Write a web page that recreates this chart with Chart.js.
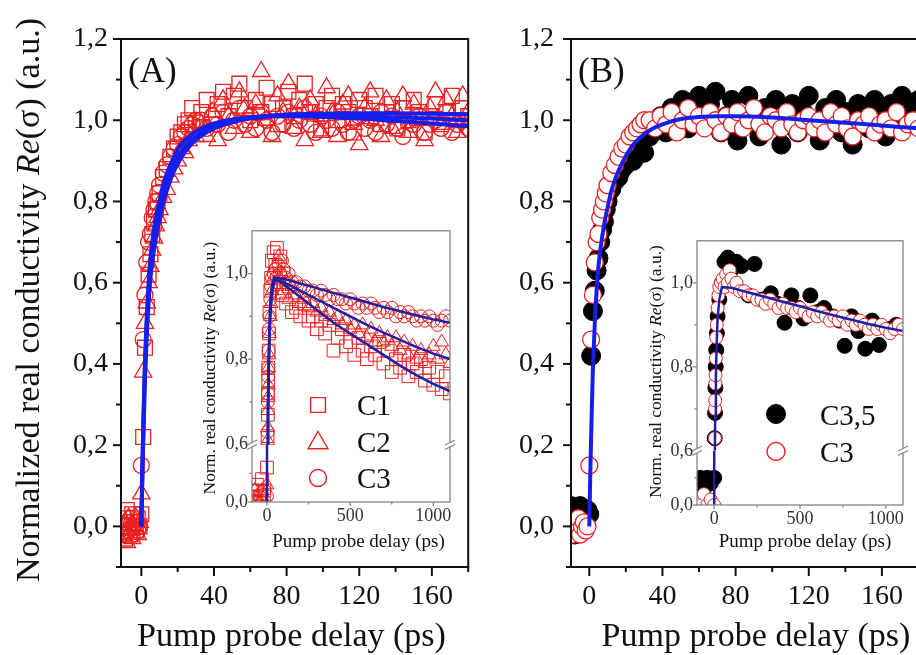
<!DOCTYPE html>
<html>
<head>
<meta charset="utf-8">
<script src="https://cdn.jsdelivr.net/npm/chart.js@4.4.0/dist/chart.umd.min.js"></script>
<style>
  html, body { margin: 0; padding: 0; background: #fff; overflow: hidden; width: 916px; height: 655px; position: relative; }
  canvas { position: absolute; }
</style>
</head>
<body>
<canvas id="mainA" width="480" height="655" style="left:0;top:0"></canvas>
<canvas id="mainB" width="449" height="655" style="left:480px;top:0"></canvas>
<canvas id="insetA" width="270" height="340" style="left:190px;top:220px"></canvas>
<canvas id="insetB" width="272" height="330" style="left:640px;top:230px"></canvas>
<script>
"use strict";

// ---- data ----

// main panels, delay in ps
const tMain = [-10, -9, -8, -7, -6, -5, -4, -3, -2, -1, 0,
  1, 2, 3, 4, 5, 6, 7, 8, 9, 10, 12, 14, 16, 18, 20, 22, 24, 26, 28, 30,
  33, 36, 39, 42, 45, 48, 51, 54, 57, 60, 63, 66, 69, 72, 75, 78, 81, 84, 87, 90,
  93, 96, 99, 102, 105, 108, 111, 114, 117, 120, 123, 126, 129, 132, 135, 138, 141, 144, 147, 150,
  153, 156, 159, 162, 165, 168, 171, 174, 177, 180];

const c1Main = [0.02, -0.03, 0.04, 0.0, -0.02, 0.03, 0.01, -0.01, 0.02, 0.0, 0.03,
  0.22, 0.44, 0.54, 0.62, 0.67, 0.72, 0.75, 0.78, 0.80, 0.82,
  0.86, 0.88, 0.91, 0.93, 0.96, 0.97, 0.99, 1.0, 1.03, 0.98,
  1.02, 1.05, 0.99, 1.04, 1.07, 1.01, 1.06, 1.09, 1.03, 1.0,
  1.05, 1.02, 1.08, 1.04, 0.99, 1.03, 1.07, 1.01, 1.05, 1.09,
  1.02, 1.04, 0.98, 1.03, 1.06, 1.0, 1.04, 1.02, 0.97, 1.05,
  1.03, 1.01, 1.06, 0.99, 1.02, 1.04, 0.98, 1.03, 1.0, 1.05,
  1.02, 0.97, 1.01, 1.04, 0.99, 1.02, 1.06, 1.0, 1.03, 1.01];

const c2Main = [-0.02, 0.01, -0.04, 0.02, -0.01, -0.03, 0.0, 0.02, -0.02, 0.01, 0.08,
  0.38, 0.50, 0.55, 0.60, 0.64, 0.68, 0.71, 0.74, 0.76, 0.78,
  0.81, 0.83, 0.86, 0.88, 0.90, 0.93, 0.92, 0.95, 0.97, 0.96,
  0.99, 0.96, 1.02, 0.95, 1.05, 1.01, 0.98, 1.07, 1.03, 0.97,
  1.04, 1.12, 1.0, 0.96, 1.06, 1.02, 1.09, 0.98, 1.03, 0.95,
  1.05, 1.01, 0.97, 1.08, 1.02, 0.96, 1.04, 1.06, 0.99, 0.94,
  1.03, 1.07, 1.0, 0.96, 1.05, 0.98, 1.02, 1.06, 0.97, 1.04,
  1.0, 0.95, 1.03, 1.07, 0.99, 1.05, 1.01, 0.97, 1.06, 1.02];

const c3Main = [0.0, -0.02, 0.01, -0.01, 0.02, -0.02, 0.0, 0.01, -0.01, 0.0, 0.15,
  0.46, 0.57, 0.65, 0.70, 0.72, 0.76, 0.78, 0.80, 0.82, 0.84,
  0.87, 0.89, 0.91, 0.93, 0.94, 0.96, 0.97, 0.98, 0.99, 1.0,
  1.0, 0.98, 1.01, 0.99, 1.02, 0.97, 1.0, 1.03, 0.99, 1.01,
  0.98, 1.02, 1.0, 0.97, 1.01, 0.99, 1.02, 0.98, 1.0, 1.03,
  0.99, 0.97, 1.01, 1.0, 0.98, 1.02, 0.99, 0.97, 1.0, 1.01,
  0.98, 1.0, 0.97, 1.02, 0.99, 1.01, 0.98, 0.96, 1.0, 0.99,
  1.01, 0.97, 0.99, 1.0, 0.98, 1.02, 0.97, 0.99, 1.0, 0.98];

const c35Main = [0.05, 0.03, -0.02, 0.04, 0.02, 0.05, 0.03, 0.04, 0.02, 0.04, 0.03,
  0.42, 0.53, 0.58, 0.63, 0.66, 0.70, 0.73, 0.75, 0.78, 0.80,
  0.83, 0.85, 0.86, 0.88, 0.89, 0.91, 0.90, 0.93, 0.94, 0.92,
  0.96, 0.98, 1.01, 0.97, 1.03, 1.0, 1.05, 0.98, 1.02, 1.06,
  0.99, 1.04, 1.07, 0.97, 1.01, 1.05, 0.95, 1.0, 1.06, 1.02,
  0.96, 1.03, 0.99, 1.05, 0.94, 1.01, 1.04, 0.97, 1.02, 1.06,
  0.99, 0.95, 1.03, 1.0, 1.05, 0.97, 1.02, 0.94, 1.04, 1.01,
  0.98, 1.05, 1.02, 0.96, 1.04, 1.0, 1.06, 0.99, 1.03, 1.05];

// fitted curves (main panels)
const tFit = [0, 0.5, 1, 1.5, 2, 3, 4, 5, 6, 8, 10, 12, 15, 18, 21, 25, 30, 35, 40, 50, 60, 70, 80, 100, 120, 140, 160, 180];
const fitA1 = [0, 0.13, 0.24, 0.33, 0.41, 0.52, 0.60, 0.66, 0.70, 0.76, 0.80, 0.84, 0.88, 0.91, 0.935, 0.955, 0.972, 0.984, 0.992, 1.002, 1.007, 1.01, 1.01, 1.008, 1.004, 0.998, 0.992, 0.985];
const fitA2 = [0, 0.11, 0.20, 0.28, 0.36, 0.47, 0.55, 0.61, 0.65, 0.71, 0.755, 0.795, 0.84, 0.875, 0.90, 0.928, 0.952, 0.968, 0.98, 0.995, 1.004, 1.009, 1.011, 1.012, 1.01, 1.007, 1.004, 1.0];
const fitA3 = [0, 0.12, 0.22, 0.31, 0.39, 0.50, 0.58, 0.64, 0.68, 0.74, 0.78, 0.82, 0.86, 0.89, 0.915, 0.94, 0.96, 0.975, 0.985, 0.998, 1.006, 1.011, 1.014, 1.016, 1.017, 1.017, 1.016, 1.015];
const fitB = [0, 0.12, 0.22, 0.31, 0.39, 0.50, 0.58, 0.64, 0.68, 0.74, 0.785, 0.825, 0.865, 0.895, 0.92, 0.945, 0.965, 0.98, 0.99, 1.003, 1.008, 1.01, 1.01, 1.007, 1.0, 0.994, 0.987, 0.98];

// insets: lower part of the broken axis (0 .. 0.1)
const tInLowA = [-90, -75, -60, -45, -30, -15, 0];
const c1InLow = [0.02, 0.0, 0.03, 0.01, 0.04, 0.02, 0.06];
const c2InLow = [0.0, 0.02, 0.01, 0.0, 0.02, 0.01, 0.03];
const c3InLow = [0.01, 0.0, 0.02, 0.01, 0.0, 0.02, 0.01];
const tInLowB = [-100, -80, -60, -40, -20, 0];
const c35InLow = [0.04, 0.05, 0.03, 0.05, 0.04, 0.05];
const c3InLowB = [0.01, 0.0, 0.02, 0.0, 0.01, 0.0];

// insets: upper part (0.6 .. 1.1)
const tInHigh = [4, 5, 6, 7, 8, 10, 12, 15, 20, 25, 30, 40, 50, 60, 70, 80, 90, 100, 115, 130, 150,
  175, 200, 225, 250, 275, 300, 325, 350, 375, 400,
  425, 450, 475, 500, 525, 550, 575, 600, 625, 650,
  675, 700, 725, 750, 775, 800, 825, 850, 875, 900,
  925, 950, 975, 1000, 1025, 1050, 1075, 1100];
const c1InHigh = [0.62, 0.67, 0.72, 0.75, 0.78, 0.82, 0.86, 0.91, 0.96, 0.99, 1.03, 1.05, 1.02, 1.06, 0.98, 1.04, 0.95, 1.0, 0.93, 0.97, 0.91,
  0.92, 0.90, 0.93, 0.89, 0.90, 0.87, 0.89, 0.86, 0.88, 0.82,
  0.85, 0.87, 0.83, 0.84, 0.81, 0.85, 0.82, 0.80, 0.83, 0.81,
  0.84, 0.79, 0.82, 0.77, 0.80, 0.78, 0.81, 0.76, 0.79, 0.77,
  0.80, 0.75, 0.78, 0.74, 0.77, 0.73, 0.76, 0.72];
const c2InHigh = [0.61, 0.64, 0.68, 0.71, 0.74, 0.78, 0.81, 0.86, 0.90, 0.93, 0.96, 0.99, 1.02, 0.97, 1.04, 0.95, 1.0, 0.96, 0.98, 0.94, 0.97,
  0.95, 0.93, 0.94, 0.92, 0.93, 0.91, 0.92, 0.90, 0.91, 0.89,
  0.90, 0.88, 0.89, 0.87, 0.88, 0.86, 0.88, 0.85, 0.87, 0.84,
  0.86, 0.84, 0.85, 0.83, 0.85, 0.82, 0.84, 0.81, 0.83, 0.80,
  0.82, 0.79, 0.81, 0.83, 0.80, 0.84, 0.81, 0.79];
const c3InHigh = [0.63, 0.70, 0.72, 0.76, 0.78, 0.82, 0.87, 0.90, 0.94, 0.97, 0.99, 1.0, 1.01, 0.99, 1.02, 1.0, 1.03, 1.01, 0.99, 1.0, 0.98,
  0.98, 0.97, 0.97, 0.96, 0.96, 0.95, 0.96, 0.95, 0.94, 0.95,
  0.94, 0.94, 0.93, 0.94, 0.93, 0.92, 0.93, 0.92, 0.93, 0.92,
  0.91, 0.92, 0.91, 0.92, 0.90, 0.91, 0.90, 0.91, 0.90, 0.89,
  0.90, 0.89, 0.90, 0.89, 0.88, 0.89, 0.90, 0.89];
const tIn35 = [3, 5, 7, 9, 12, 16, 20, 30, 45, 60, 80, 100, 130, 160, 200, 235, 280, 330, 370, 410,
  450, 490, 520, 560, 600, 640, 690, 730, 760, 800, 840, 880, 920, 960, 1010, 1060];
const c35InHigh = [0.63, 0.69, 0.75, 0.80, 0.84, 0.88, 0.92, 0.96, 1.0, 1.05, 1.06, 1.03, 1.05, 1.04, 0.97, 1.045, 0.96, 0.975, 0.95, 0.905,
  0.97, 0.94, 0.915, 0.97, 0.93, 0.94, 0.92, 0.91, 0.85, 0.92, 0.885, 0.843, 0.91, 0.852, 0.89, 0.90];

// fitted curves (insets)
const tFitInLow = [0, 0.3];
const fitInLow = [0, 0.1];
const tFitIn = [4, 6, 10, 15, 20, 30, 45, 100, 200, 300, 400, 500, 600, 700, 800, 900, 1000, 1100];
const fitIn1 = [0.60, 0.70, 0.80, 0.88, 0.935, 0.972, 0.99, 0.975, 0.945, 0.915, 0.885, 0.86, 0.835, 0.81, 0.785, 0.762, 0.742, 0.725];
const fitIn2 = [0.60, 0.66, 0.755, 0.84, 0.90, 0.952, 0.985, 0.98, 0.96, 0.94, 0.92, 0.90, 0.88, 0.862, 0.845, 0.828, 0.813, 0.80];
const fitIn3 = [0.60, 0.68, 0.78, 0.86, 0.915, 0.96, 0.99, 0.988, 0.977, 0.966, 0.955, 0.944, 0.933, 0.922, 0.912, 0.902, 0.893, 0.885];

// ticks
const xMajorMain = [0, 40, 80, 120, 160];
const xMinorMain = [20, 60, 100, 140, 180];
const yMajorMain = [0, 0.2, 0.4, 0.6, 0.8, 1.0, 1.2];
const yMinorMain = [-0.1, 0.1, 0.3, 0.5, 0.7, 0.9, 1.1];
const xMajorIn = [0, 500, 1000];
const xMinorIn = [250, 750];
const yHiMajorIn = [0.6, 0.8, 1.0];
const yHiMinorIn = [0.7, 0.9];
const yLoMajorIn = [0.0];
const yLoMinorIn = [0.05];

// ---- styling ----
const SERIF = '"Liberation Serif", "Times New Roman", Times, serif';
const RED = "rgb(236, 32, 32)";
const BLUE = "rgb(22, 30, 235)";
const NAVY = "rgb(30, 30, 165)";
const GREY = "#858585";

function pts(xs, ys) {
    return xs.map((x, i) => ({ x: x, y: ys[i] }));
}

function fmt(v) {
    return Number(v).toFixed(1).replace(".", ",");
}

function markers(data, style, r, color, fill, bw, order, yId) {
    return {
        data: data, yAxisID: yId, order: order,
        showLine: false,
        pointStyle: style, pointRadius: r,
        pointBorderColor: color, pointBackgroundColor: fill, pointBorderWidth: bw,
        clip: 0
    };
}

function fitLine(data, color, width, yId, smooth) {
    return {
        data: data, yAxisID: yId, order: 0,
        showLine: true, pointRadius: 0,
        borderColor: color, borderWidth: width,
        cubicInterpolationMode: smooth ? "monotone" : "default", tension: 0,
        clip: 0
    };
}

function axis(opts) {
    // opts: min, max, size (width/height), ticks list, font size, tick length, padding, labeller, extra
    const s = Object.assign({
        type: "linear",
        min: opts.min, max: opts.max, bounds: "data",
        afterFit: function (sc) {
            if (sc.isHorizontal()) { sc.height = opts.size; } else { sc.width = opts.size; }
        },
        afterBuildTicks: function (sc) {
            sc.ticks = opts.list.map(v => ({ value: v }));
        },
        ticks: {
            autoSkip: false, maxRotation: 0, padding: opts.pad,
            color: opts.color || "#111",
            font: { family: SERIF, size: opts.font },
            callback: opts.label
        },
        grid: { drawOnChartArea: false, drawTicks: true, tickLength: opts.tl, color: "rgba(0,0,0,0)" },
        border: { display: false },
        title: { display: false }
    }, opts.extra || {});
    return s;
}

// ---- drawing helpers ----
function richText(ctx, parts, x, y, size, vertical, align) {
    ctx.save();
    ctx.fillStyle = "#111";
    ctx.textBaseline = "alphabetic";
    ctx.textAlign = "left";
    let total = 0;
    const widths = parts.map(p => {
        ctx.font = (p[1] ? "italic " : "") + size + "px " + SERIF;
        const w = ctx.measureText(p[0]).width;
        total += w;
        return w;
    });
    ctx.translate(x, y);
    if (vertical) { ctx.rotate(-Math.PI / 2); }
    let cx = align === "left" ? 0 : -total / 2;
    parts.forEach((p, i) => {
        ctx.font = (p[1] ? "italic " : "") + size + "px " + SERIF;
        ctx.fillText(p[0], cx, 0);
        cx += widths[i];
    });
    ctx.restore();
}

function marker(ctx, style, x, y, r, color, fill, bw) {
    ctx.save();
    ctx.beginPath();
    if (style === "rect") {
        const h = r * Math.SQRT1_2;
        ctx.rect(x - h, y - h, 2 * h, 2 * h);
    } else if (style === "triangle") {
        ctx.moveTo(x, y - r);
        ctx.lineTo(x + r * 0.866, y + r * 0.5);
        ctx.lineTo(x - r * 0.866, y + r * 0.5);
        ctx.closePath();
    } else {
        ctx.arc(x, y, r, 0, Math.PI * 2);
    }
    if (fill) { ctx.fillStyle = fill; ctx.fill(); }
    ctx.lineWidth = bw;
    ctx.strokeStyle = color;
    ctx.stroke();
    ctx.restore();
}

function deco(cfg) {
    return {
        id: "deco",
        beforeDraw(chart) {
            if (!cfg.bg) return;
            const a = chart.chartArea;
            chart.ctx.save();
            chart.ctx.fillStyle = "#fff";
            chart.ctx.fillRect(a.left, a.top, a.right - a.left, a.bottom - a.top);
            chart.ctx.restore();
        },
        afterDatasetsDraw(chart) {
            const ctx = chart.ctx;
            const a = chart.chartArea;
            ctx.save();
            ctx.strokeStyle = cfg.color;
            ctx.lineWidth = cfg.width;
            ctx.strokeRect(a.left, a.top, a.right - a.left, a.bottom - a.top);
            cfg.ticks.forEach(t => {
                const sc = chart.scales[t.id];
                const draw = (v, len) => {
                    if (v < sc.min - 1e-9 || v > sc.max + 1e-9) return;
                    const p = sc.getPixelForValue(v);
                    ctx.beginPath();
                    if (sc.isHorizontal()) {
                        ctx.moveTo(p, a.bottom);
                        ctx.lineTo(p, a.bottom + len);
                    } else {
                        ctx.moveTo(a.left - len, p);
                        ctx.lineTo(a.left, p);
                    }
                    ctx.stroke();
                };
                t.major.forEach(v => draw(v, t.len));
                t.minor.forEach(v => draw(v, t.minorLen));
            });
            if (cfg.breakAt) {
                const yb = chart.scales[cfg.breakAt].bottom;
                [a.left, a.right].forEach(xb => {
                    ctx.fillStyle = "#fff";
                    ctx.fillRect(xb - 3, yb - 2, 6, 4);
                    ctx.lineWidth = 1.2;
                    [-2.2, 2.2].forEach(d => {
                        ctx.beginPath();
                        ctx.moveTo(xb - 5, yb + d + 2.5);
                        ctx.lineTo(xb + 5, yb + d - 2.5);
                        ctx.stroke();
                    });
                });
            }
            ctx.restore();
        },
        afterDraw(chart) {
            const ctx = chart.ctx;
            (cfg.texts || []).forEach(t => richText(ctx, t.parts, t.x, t.y, t.size, t.vertical, t.align));
            (cfg.legend || []).forEach(l => {
                marker(ctx, l.style, l.x, l.y, l.r, l.color, l.fill, l.bw);
                richText(ctx, [[l.label, false]], l.tx, l.ty, l.size, false, "left");
            });
        }
    };
}

const yTitleParts = (first) => [[first, false], ["Re", true], ["(σ)", false], [" (a.u.)", false]];
const xTitle = [["Pump probe delay (ps)", false]];

const base = {
    responsive: false, animation: false, devicePixelRatio: 1, events: [],
    plugins: { legend: { display: false }, tooltip: { enabled: false } }
};

// ---- panel A, main ----
new Chart(document.getElementById("mainA"), {
    type: "scatter",
    data: {
        datasets: [
            fitLine(pts(tFit, fitA1), BLUE, 4, "y", true),
            fitLine(pts(tFit, fitA2), BLUE, 4, "y", true),
            fitLine(pts(tFit, fitA3), BLUE, 4, "y", true),
            markers(pts(tMain, c3Main), "circle", 8, RED, "rgba(0,0,0,0)", 1.3, 1, "y"),
            markers(pts(tMain, c2Main), "triangle", 10, RED, "rgba(0,0,0,0)", 1.3, 2, "y"),
            markers(pts(tMain, c1Main), "rect", 10.5, RED, "rgba(0,0,0,0)", 1.3, 3, "y")
        ]
    },
    options: Object.assign({}, base, {
        layout: { padding: { top: 39, right: 2, left: 0, bottom: 0 } },
        scales: {
            x: axis({ min: -11.2, max: 180, size: 88, list: xMajorMain, font: 28, tl: 9, pad: 4, label: v => String(v), extra: { position: "bottom" } }),
            y: axis({ min: -0.1, max: 1.2, size: 121, list: yMajorMain, font: 28, tl: 8, pad: 5, label: fmt, extra: { position: "left" } })
        }
    }),
    plugins: [deco({
        color: "#111", width: 2,
        ticks: [
            { id: "x", major: xMajorMain, minor: xMinorMain, len: 9, minorLen: 5 },
            { id: "y", major: yMajorMain, minor: yMinorMain, len: 8, minorLen: 5 }
        ],
        texts: [
            { parts: yTitleParts("Normalized real conductivity "), x: 39, y: 300, size: 34, vertical: true },
            { parts: xTitle, x: 291.5, y: 646, size: 34 },
            { parts: [["(A)", false]], x: 128, y: 82, size: 35, align: "left" }
        ]
    })]
});

// ---- panel B, main ----
new Chart(document.getElementById("mainB"), {
    type: "scatter",
    data: {
        datasets: [
            fitLine(pts(tFit, fitB), BLUE, 4, "y", true),
            markers(pts(tMain, c3Main), "circle", 8.5, RED, "#fff", 1.3, 1, "y"),
            markers(pts(tMain, c35Main), "circle", 9.5, "#000", "#000", 1, 2, "y")
        ]
    },
    options: Object.assign({}, base, {
        layout: { padding: { top: 39, right: 3, left: 0, bottom: 0 } },
        scales: {
            x: axis({ min: -10, max: 180, size: 88, list: xMajorMain, font: 28, tl: 9, pad: 4, label: v => String(v), extra: { position: "bottom" } }),
            y: axis({ min: -0.1, max: 1.2, size: 91, list: yMajorMain, font: 28, tl: 8, pad: 9, label: fmt, extra: { position: "left" } })
        }
    }),
    plugins: [deco({
        color: "#111", width: 2,
        ticks: [
            { id: "x", major: xMajorMain, minor: xMinorMain, len: 9, minorLen: 5 },
            { id: "y", major: yMajorMain, minor: yMinorMain, len: 8, minorLen: 5 }
        ],
        texts: [
            { parts: xTitle, x: 276, y: 646, size: 34 },
            { parts: [["(B)", false]], x: 98, y: 82, size: 35, align: "left" }
        ]
    })]
});

// ---- insets ----
function insetScales(xMin, xSize, yWidth, hiWeight, loWeight) {
    return {
        x: axis({ min: xMin, max: 1100, size: xSize, list: xMajorIn, font: 18, tl: 3, pad: 0, color: "#333", label: v => String(v), extra: { position: "bottom" } }),
        yHi: axis({ min: 0.6, max: 1.1, size: yWidth, list: yHiMajorIn, font: 18, tl: 4, pad: 0, color: "#333", label: fmt,
            extra: { position: "left", stack: "y", stackWeight: hiWeight, weight: 1 } }),
        yLo: axis({ min: 0, max: 0.1, size: yWidth, list: yLoMajorIn, font: 18, tl: 4, pad: 0, color: "#333", label: fmt,
            extra: { position: "left", stack: "y", stackWeight: loWeight, weight: 0 } })
    };
}

const insetTicks = [
    { id: "x", major: xMajorIn, minor: xMinorIn, len: 4, minorLen: 2.5 },
    { id: "yHi", major: yHiMajorIn, minor: yHiMinorIn, len: 4, minorLen: 2.5 },
    { id: "yLo", major: yLoMajorIn, minor: yLoMinorIn, len: 4, minorLen: 2.5 }
];
const insetYTitle = yTitleParts("Norm. real conductivity ");

new Chart(document.getElementById("insetA"), {
    type: "scatter",
    data: {
        datasets: [
            fitLine(pts(tFitInLow, fitInLow), NAVY, 2.5, "yLo", false),
            fitLine(pts(tFitIn, fitIn1), NAVY, 2.5, "yHi", false),
            fitLine(pts(tFitIn, fitIn2), NAVY, 2.5, "yHi", false),
            fitLine(pts(tFitIn, fitIn3), NAVY, 2.5, "yHi", false),
            markers(pts(tInHigh, c3InHigh), "circle", 6.5, RED, "rgba(0,0,0,0)", 1, 1, "yHi"),
            markers(pts(tInLowA, c3InLow), "circle", 6.5, RED, "rgba(0,0,0,0)", 1, 1, "yLo"),
            markers(pts(tInHigh, c2InHigh), "triangle", 8, RED, "rgba(0,0,0,0)", 1, 2, "yHi"),
            markers(pts(tInLowA, c2InLow), "triangle", 8, RED, "rgba(0,0,0,0)", 1, 2, "yLo"),
            markers(pts(tInHigh, c1InHigh), "rect", 9, RED, "rgba(0,0,0,0)", 1, 3, "yHi"),
            markers(pts(tInLowA, c1InLow), "rect", 9, RED, "rgba(0,0,0,0)", 1, 3, "yLo")
        ]
    },
    options: Object.assign({}, base, {
        layout: { padding: { top: 6, right: 7, left: 0, bottom: 0 } },
        scales: insetScales(-90, 58, 62, 217.7, 58.3)
    }),
    plugins: [deco({
        bg: true, color: GREY, width: 1.3, breakAt: "yHi",
        ticks: insetTicks,
        texts: [
            { parts: insetYTitle, x: 25, y: 148, size: 17.5, vertical: true },
            { parts: xTitle, x: 168.5, y: 327, size: 19 }
        ],
        legend: [
            { style: "rect", x: 128, y: 185, r: 10.5, color: RED, bw: 1.4, label: "C1", tx: 167, ty: 195, size: 29 },
            { style: "triangle", x: 128, y: 223, r: 11.5, color: RED, bw: 1.4, label: "C2", tx: 167, ty: 231.7, size: 29 },
            { style: "circle", x: 128, y: 258, r: 8.5, color: RED, bw: 1.4, label: "C3", tx: 167, ty: 268, size: 29 }
        ]
    })]
});

new Chart(document.getElementById("insetB"), {
    type: "scatter",
    data: {
        datasets: [
            fitLine(pts(tFitInLow, fitInLow), NAVY, 2.5, "yLo", false),
            fitLine(pts(tFitIn, fitIn3), NAVY, 2.5, "yHi", false),
            markers(pts(tInHigh, c3InHigh), "circle", 6.5, RED, "#fff", 1, 1, "yHi"),
            markers(pts(tInLowB, c3InLowB), "circle", 6.5, RED, "#fff", 1, 1, "yLo"),
            markers(pts(tIn35, c35InHigh), "circle", 7.5, "#000", "#000", 1, 2, "yHi"),
            markers(pts(tInLowB, c35InLow), "circle", 7.5, "#000", "#000", 1, 2, "yLo")
        ]
    },
    options: Object.assign({}, base, {
        layout: { padding: { top: 7, right: 9, left: 0, bottom: 0 } },
        scales: insetScales(-100, 55, 57, 213, 55)
    }),
    plugins: [deco({
        bg: true, color: GREY, width: 1.3, breakAt: "yHi",
        ticks: insetTicks,
        texts: [
            { parts: insetYTitle, x: 21, y: 141.5, size: 17.5, vertical: true },
            { parts: xTitle, x: 165, y: 317, size: 19 }
        ],
        legend: [
            { style: "circle", x: 136, y: 184, r: 9.5, color: "#000", fill: "#000", bw: 1, label: "C3,5", tx: 180, ty: 195, size: 29 },
            { style: "circle", x: 136, y: 221.5, r: 9, color: RED, fill: "#fff", bw: 1.4, label: "C3", tx: 180, ty: 231.7, size: 29 }
        ]
    })]
});
</script>
</body>
</html>
